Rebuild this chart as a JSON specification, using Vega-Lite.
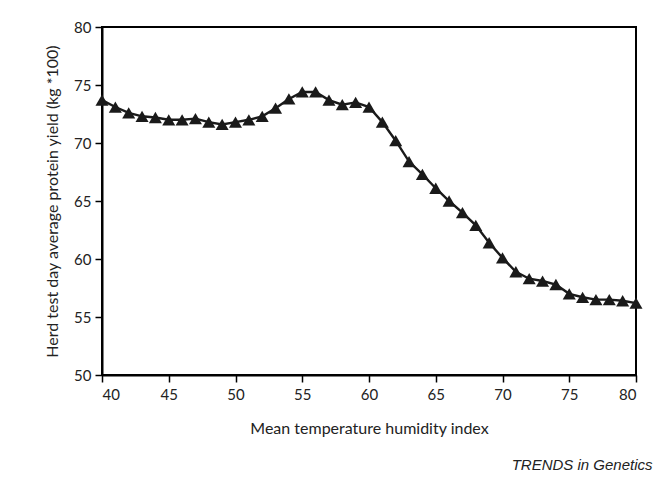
{
  "$schema": "https://vega.github.io/schema/vega-lite/v6.json",
  "width": 534,
  "height": 348,
  "autosize": "none",
  "padding": {"left": 102, "top": 27, "right": 35, "bottom": 106},
  "background": "white",
  "config": {
    "view": {"stroke": "black", "strokeWidth": 2},
    "font": "Lato",
    "axis": {
      "grid": false,
      "domainColor": "black",
      "domainWidth": 2,
      "tickColor": "black",
      "tickWidth": 1.5,
      "tickSize": 7,
      "labelFont": "Lato",
      "labelFontSize": 15,
      "labelColor": "#222",
      "titleFont": "Lato",
      "titleFontSize": 16,
      "titleFontWeight": "normal",
      "titleColor": "#222"
    }
  },
  "title": {
    "text": "TRENDS in Genetics",
    "orient": "bottom",
    "anchor": "end",
    "font": "Liberation Sans",
    "fontStyle": "italic",
    "fontWeight": "normal",
    "fontSize": 15,
    "color": "#222",
    "offset": 22,
    "dx": 10
  },
  "data": {
    "values": [
      {"thi": 40, "yield": 73.7},
      {"thi": 41, "yield": 73.1},
      {"thi": 42, "yield": 72.6},
      {"thi": 43, "yield": 72.3},
      {"thi": 44, "yield": 72.2},
      {"thi": 45, "yield": 72.0},
      {"thi": 46, "yield": 72.0},
      {"thi": 47, "yield": 72.1},
      {"thi": 48, "yield": 71.8},
      {"thi": 49, "yield": 71.6},
      {"thi": 50, "yield": 71.8},
      {"thi": 51, "yield": 72.0},
      {"thi": 52, "yield": 72.3},
      {"thi": 53, "yield": 73.0},
      {"thi": 54, "yield": 73.8},
      {"thi": 55, "yield": 74.4},
      {"thi": 56, "yield": 74.4},
      {"thi": 57, "yield": 73.7},
      {"thi": 58, "yield": 73.3},
      {"thi": 59, "yield": 73.5},
      {"thi": 60, "yield": 73.1},
      {"thi": 61, "yield": 71.8},
      {"thi": 62, "yield": 70.2},
      {"thi": 63, "yield": 68.4},
      {"thi": 64, "yield": 67.3},
      {"thi": 65, "yield": 66.1},
      {"thi": 66, "yield": 65.0},
      {"thi": 67, "yield": 64.0},
      {"thi": 68, "yield": 62.9},
      {"thi": 69, "yield": 61.4},
      {"thi": 70, "yield": 60.1},
      {"thi": 71, "yield": 58.9},
      {"thi": 72, "yield": 58.3},
      {"thi": 73, "yield": 58.1},
      {"thi": 74, "yield": 57.8},
      {"thi": 75, "yield": 57.0},
      {"thi": 76, "yield": 56.7},
      {"thi": 77, "yield": 56.5},
      {"thi": 78, "yield": 56.5},
      {"thi": 79, "yield": 56.4},
      {"thi": 80, "yield": 56.2}
    ]
  },
  "encoding": {
    "x": {
      "field": "thi",
      "type": "quantitative",
      "scale": {"domain": [40, 80], "nice": false, "zero": false},
      "axis": {"values": [40, 45, 50, 55, 60, 65, 70, 75, 80], "title": "Mean temperature humidity index", "titlePadding": 18, "labelPadding": 5}
    },
    "y": {
      "field": "yield",
      "type": "quantitative",
      "scale": {"domain": [50, 80], "nice": false, "zero": false},
      "axis": {"values": [50, 55, 60, 65, 70, 75, 80], "title": "Herd test day average protein yield (kg *100)", "titlePadding": 13, "labelPadding": 4}
    }
  },
  "layer": [
    {"mark": {"type": "line", "color": "#1a1a1a", "strokeWidth": 2.4, "clip": false}},
    {"mark": {"type": "point", "shape": "triangle-up", "filled": true, "color": "#1a1a1a", "opacity": 1, "size": 170, "clip": false}}
  ]
}
